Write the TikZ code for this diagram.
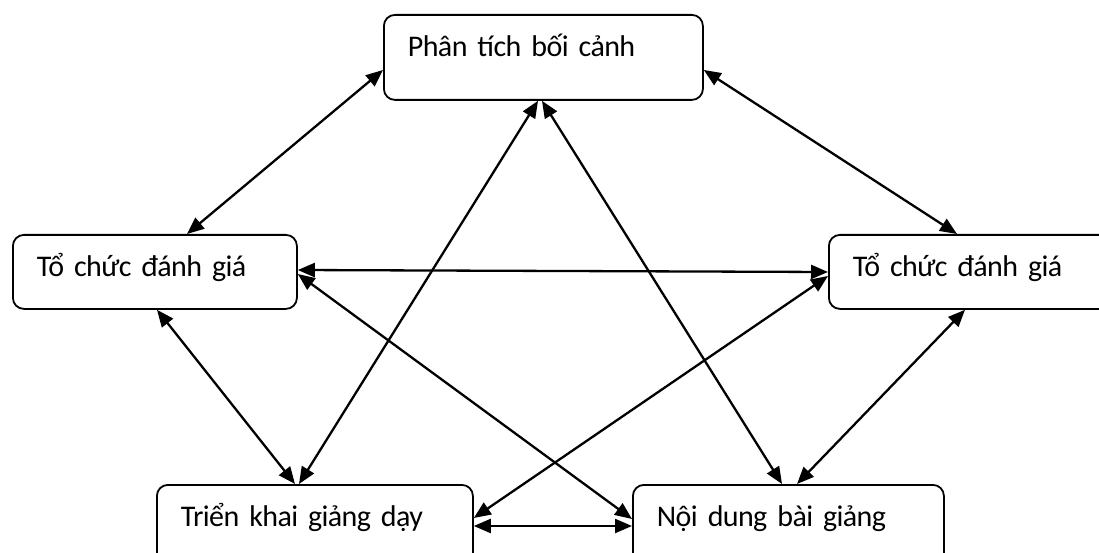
\documentclass[tikz,border=0pt]{standalone}
\usepackage{fontspec}
\setmainfont{Carlito}[WordSpace=0.6,LetterSpace=-2.0]
\usetikzlibrary{arrows.meta}
\tikzset{
  box/.style={draw, line width=1.8pt, rounded corners=11pt, anchor=north west,
    inner xsep=24pt, inner ysep=0pt, align=left, text height=42pt,
    font=\fontsize{30pt}{35pt}\selectfont},
  link/.style={line width=2.3pt, {Triangle[length=17pt,width=14pt]}-{Triangle[length=17pt,width=14pt]}}
}
\begin{document}
\begin{tikzpicture}[x=1pt,y=-1pt]
\useasboundingbox (0,0) rectangle (1099,553);
\clip (0,0) rectangle (1099,553);
\node[box, text width=271pt, text depth=43pt] (T) at (383,14) {Phân tích bối cảnh};
\node[box, text width=236pt, text depth=32pt] (L) at (12,234) {Tổ chức đánh giá};
\node[box, text width=239pt, text depth=32pt] (R) at (828,234) {Tổ chức đánh giá};
\node[box, text width=268pt, text depth=44pt] (BL) at (156,484) {Triển khai giảng dạy};
\node[box, text width=263pt, text depth=44pt] (BR) at (632,484) {Nội dung bài giảng};

\draw[link] ([yshift=-56pt]T.north west) -- ([xshift=175pt]L.north west);
\draw[link] ([yshift=-56pt]T.north east) -- ([xshift=129pt]R.north west);
\draw[link] ([xshift=155pt]T.south west) -- ([xshift=143pt]BL.north west);
\draw[link] ([xshift=159pt]T.south west) -- ([xshift=150pt]BR.north west);
\draw[link] ([yshift=-36pt]L.north east) -- ([yshift=-38pt]R.north west);
\draw[link] ([yshift=-40pt]L.north east) -- ([yshift=-35pt]BR.north west);
\draw[link] ([xshift=145pt]L.south west) -- ([xshift=139pt]BL.north west);
\draw[link] ([yshift=-42pt]R.north west) -- ([yshift=-34pt]BL.north east);
\draw[link] ([xshift=137pt]R.south west) -- ([xshift=165pt]BR.north west);
\draw[link] ([yshift=-42pt]BL.north east) -- ([yshift=-42pt]BR.north west);
\end{tikzpicture}
\end{document}
